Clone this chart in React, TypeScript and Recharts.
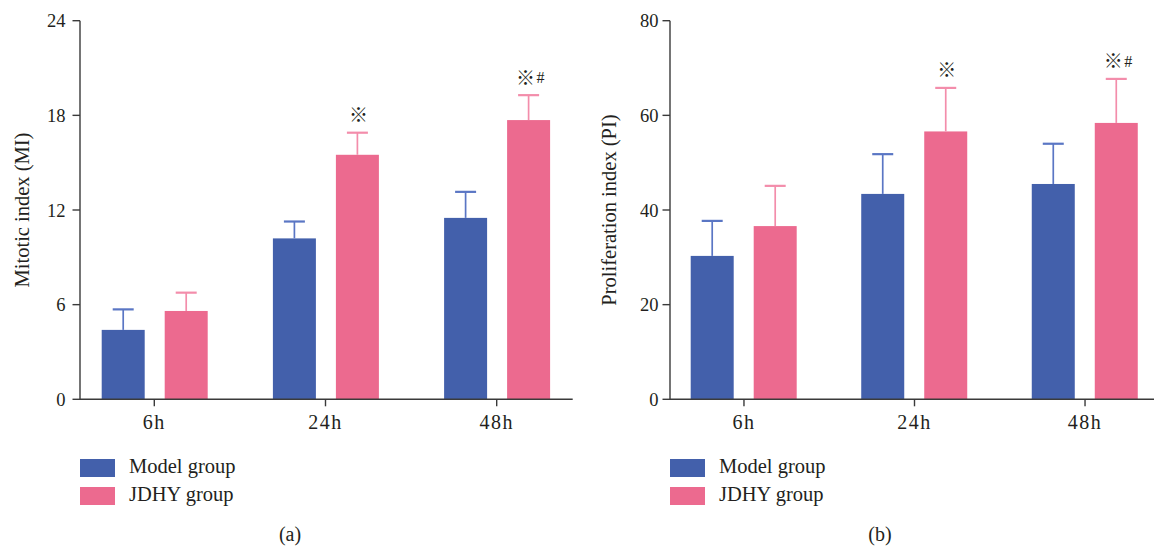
import React from 'react';
import { BarChart, Bar, XAxis, YAxis } from 'recharts';

// ---- data ----
const categories = ['6h', '24h', '48h'];
const seriesNames = ['Model group', 'JDHY group'];
const marks = ['', '※', '※#'];

const miModel = [4.4, 10.2, 11.5];
const miModelSD = [1.3, 1.07, 1.65];
const miJdhy = [5.6, 15.5, 17.7];
const miJdhySD = [1.16, 1.4, 1.58];

const piModel = [30.3, 43.4, 45.5];
const piModelSD = [7.4, 8.4, 8.5];
const piJdhy = [36.6, 56.6, 58.4];
const piJdhySD = [8.5, 9.2, 9.3];

const miTicks = [0, 6, 12, 18, 24];
const piTicks = [0, 20, 40, 60, 80];

// ---- styles ----
const BLUE = '#4360AB';
const PINK = '#EC6A8F';
const BLUE_ERR = '#5A76C4';
const PINK_ERR = '#F38DAB';
const TEXT = '#231F20';
const AXIS = '#3a3a3a';
const SERIF = '"Liberation Serif", "DejaVu Serif", serif';
const CJK = '"Noto Sans CJK SC", "DejaVu Sans", sans-serif';

const buildData = (a: number[], aSD: number[], b: number[], bSD: number[]) =>
  categories.map((c, i) => ({
    cat: c,
    model: a[i],
    modelSD: aSD[i],
    jdhy: b[i],
    jdhySD: bSD[i],
    mark: marks[i],
  }));

const miData = buildData(miModel, miModelSD, miJdhy, miJdhySD);
const piData = buildData(piModel, piModelSD, piJdhy, piJdhySD);

const makeShape = (valueKey: string, sdKey: string, errColor: string, withMark: boolean) => (props: any) => {
  const { x, y, width, height, payload, fill } = props;
  const v = payload[valueKey];
  const ppu = v ? height / v : 0;
  const cx = x + width / 2;
  const errY = y - payload[sdKey] * ppu;
  const mark: string = withMark ? payload.mark : '';
  const capW = 21;
  return (
    <g>
      <rect x={x} y={y} width={width} height={height} fill={fill} />
      <line x1={cx} x2={cx} y1={y} y2={errY} stroke={errColor} strokeWidth={1.7} />
      <line x1={cx - capW / 2} x2={cx + capW / 2} y1={errY} y2={errY} stroke={errColor} strokeWidth={2.2} />
      {mark === '※' && (
        <text x={cx + 1} y={errY - 19} textAnchor="middle" dominantBaseline="central" fontFamily={CJK} fontSize={19} fill={TEXT}>
          ※
        </text>
      )}
      {mark === '※#' && (
        <g>
          <text x={cx - 3} y={errY - 19} textAnchor="middle" dominantBaseline="central" fontFamily={CJK} fontSize={19} fill={TEXT}>
            ※
          </text>
          <text x={cx + 12} y={errY - 12} textAnchor="middle" fontFamily={SERIF} fontSize={16} fill={TEXT}>
            #
          </text>
        </g>
      )}
    </g>
  );
};

const YLabel = (text: string, dx: number) => (props: any) => {
  const vb = props.viewBox;
  const cx = vb.x + vb.width - dx;
  const cy = vb.y + vb.height / 2;
  return (
    <text
      x={cx}
      y={cy}
      transform={`rotate(-90, ${cx}, ${cy})`}
      textAnchor="middle"
      dominantBaseline="central"
      fontFamily={SERIF}
      fontSize={20.5}
      fill={TEXT}
    >
      {text}
    </text>
  );
};

const Legend = ({ left, top }: { left: number; top: number }) => (
  <div style={{ position: 'absolute', left, top, fontFamily: SERIF, fontSize: 20.5, color: TEXT }}>
    {seriesNames.map((n, i) => (
      <div key={n} style={{ position: 'absolute', left: 0, top: i * 28, whiteSpace: 'nowrap', height: 18 }}>
        <div style={{ position: 'absolute', left: 0, top: 0, width: 35, height: 17.5, background: i === 0 ? BLUE : PINK }} />
        <div style={{ position: 'absolute', left: 49, top: -5, lineHeight: '24px' }}>{n}</div>
      </div>
    ))}
  </div>
);

interface PanelProps {
  data: any[];
  ticks: number[];
  label: string;
  width: number;
  marginLeft: number;
  marginRight: number;
  padLeft: number;
  padRight: number;
  tickMargin: number;
  labelDx: number;
}

const Panel = (p: PanelProps) => (
  <BarChart
    width={p.width}
    height={546}
    data={p.data}
    margin={{ top: 20.7, right: p.marginRight, left: p.marginLeft, bottom: 116.7 }}
    barGap={20}
  >
    <XAxis
      dataKey="cat"
      padding={{ left: p.padLeft, right: p.padRight }}
      axisLine={{ stroke: AXIS, strokeWidth: 1.4 }}
      tickLine={{ stroke: AXIS, strokeWidth: 1.4 }}
      tickSize={7}
      tickMargin={8}
      height={30}
      tick={{ fontFamily: SERIF, fontSize: 20, fill: TEXT, letterSpacing: 1.5 } as any}
    />
    <YAxis
      width={60}
      domain={[p.ticks[0], p.ticks[p.ticks.length - 1]]}
      ticks={p.ticks}
      interval={0}
      axisLine={{ stroke: AXIS, strokeWidth: 1.4 }}
      tickLine={{ stroke: AXIS, strokeWidth: 1.4 }}
      tickSize={7.5}
      tickMargin={p.tickMargin}
      tick={{ fontFamily: SERIF, fontSize: 18.5, fill: TEXT }}
      label={{ content: YLabel(p.label, p.labelDx) } as any}
    />
    <Bar dataKey="model" name={seriesNames[0]} fill={BLUE} barSize={43} isAnimationActive={false}
      shape={makeShape('model', 'modelSD', BLUE_ERR, false)} />
    <Bar dataKey="jdhy" name={seriesNames[1]} fill={PINK} barSize={43} isAnimationActive={false}
      shape={makeShape('jdhy', 'jdhySD', PINK_ERR, true)} />
  </BarChart>
);

export default function App() {
  return (
    <div style={{ position: 'absolute', left: 0, top: 0, width: 1154, height: 546, background: '#fff', overflow: 'hidden' }}>
      <div style={{ position: 'absolute', left: 0, top: 0 }}>
        <Panel data={miData} ticks={miTicks} label="Mitotic index (MI)" width={580}
          marginLeft={20} marginRight={7.3} padLeft={-11.3} padRight={-9.6} tickMargin={7} labelDx={58} />
      </div>
      <div style={{ position: 'absolute', left: 580, top: 0 }}>
        <Panel data={piData} ticks={piTicks} label="Proliferation index (PI)" width={574}
          marginLeft={30} marginRight={0} padLeft={-11.3} padRight={-16.3} tickMargin={4} labelDx={61} />
      </div>
      <Legend left={80} top={459} />
      <Legend left={670} top={459} />
      <div style={{ position: 'absolute', left: 290, top: 534, transform: 'translate(-50%, -50%)', fontFamily: SERIF, fontSize: 20, color: TEXT }}>(a)</div>
      <div style={{ position: 'absolute', left: 880, top: 534, transform: 'translate(-50%, -50%)', fontFamily: SERIF, fontSize: 20, color: TEXT }}>(b)</div>
    </div>
  );
}
